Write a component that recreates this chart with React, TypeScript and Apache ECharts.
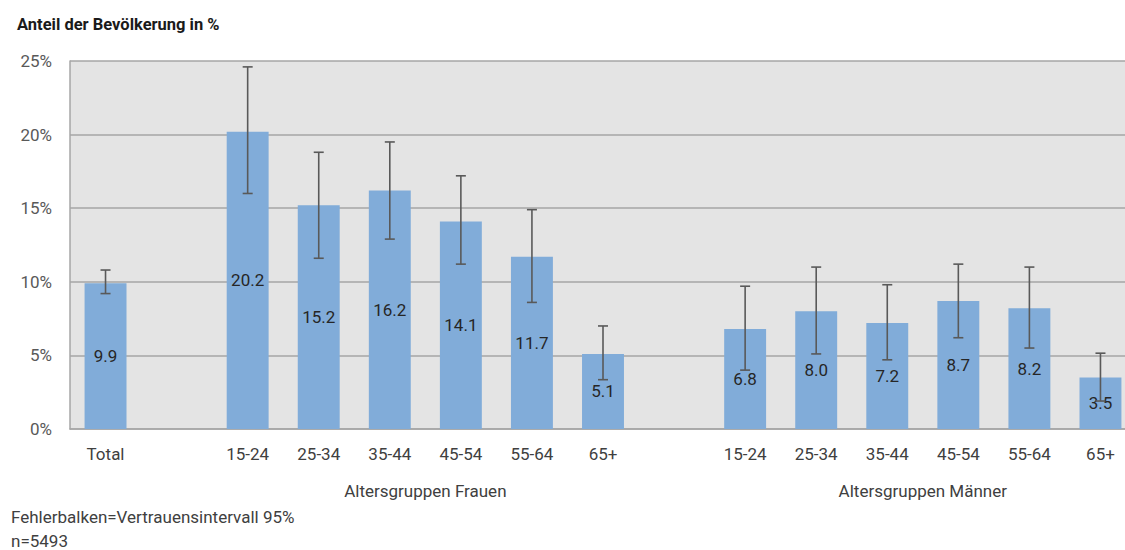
import React, { useEffect, useRef } from "react";
import * as echarts from "echarts";

const categories = ["Total", "", "15-24", "25-34", "35-44", "45-54", "55-64", "65+", " ", "15-24", "25-34", "35-44", "45-54", "55-64", "65+"];
const values: (number | null)[] = [9.9, null, 20.2, 15.2, 16.2, 14.1, 11.7, 5.1, null, 6.8, 8.0, 7.2, 8.7, 8.2, 3.5];
const errLow: (number | null)[] = [9.2, null, 16.0, 11.6, 12.9, 11.2, 8.6, 3.35, null, 4.0, 5.1, 4.7, 6.2, 5.5, 1.9];
const errHigh: (number | null)[] = [10.8, null, 24.6, 18.8, 19.5, 17.2, 14.9, 7.0, null, 9.7, 11.0, 9.8, 11.2, 11.0, 5.15];
const yTicks = { min: 0, max: 25, interval: 5 };
const groupLabels = [
  { text: "Altersgruppen Frauen", from: 2, to: 7 },
  { text: "Altersgruppen Männer", from: 9, to: 14 },
];
const titleText = "Anteil der Bevölkerung in %";
const notes = ["Fehlerbalken=Vertrauensintervall 95%", "n=5493"];

const FONT = "Roboto, 'Noto Sans', sans-serif";
const W = 1137;
const H = 550;

export default function App() {
  const ref = useRef<HTMLDivElement>(null);
  useEffect(() => {
    if (!ref.current) return;
    const chart = echarts.init(ref.current, undefined, { renderer: "svg" });
    const errData = values
      .map((v, i) => (v == null ? null : [i, errLow[i], errHigh[i]]))
      .filter((d) => d != null);
    chart.setOption({
      animation: false,
      textStyle: { fontFamily: FONT },
      title: {
        text: titleText,
        left: 12,
        top: 11,
        textStyle: { fontFamily: FONT, fontSize: 16.5, fontWeight: "bold", color: "#1a1a1a" },
      },
      grid: {
        left: 70,
        top: 61,
        bottom: 121,
        right: 1,
        show: true,
        backgroundColor: "#e4e4e4",
        borderWidth: 0,
      },
      xAxis: {
        type: "category",
        data: categories,
        axisLine: { show: true, lineStyle: { color: "#a6a6a6", width: 1.5 } },
        axisTick: { show: false },
        axisLabel: { color: "#404040", fontSize: 17, margin: 16, interval: 0, fontFamily: FONT },
        splitLine: { show: false },
      },
      yAxis: {
        type: "value",
        min: yTicks.min,
        max: yTicks.max,
        interval: yTicks.interval,
        axisLine: { show: true, lineStyle: { color: "#a6a6a6", width: 1.5 } },
        axisTick: { show: false },
        axisLabel: { formatter: "{value}%", color: "#595959", fontSize: 17, margin: 18, fontFamily: FONT },
        splitLine: { show: true, lineStyle: { color: "#a6a6a6", width: 1.5 } },
      },
      series: [
        {
          type: "bar",
          data: values.map((v) => (v == null ? "-" : v)),
          barWidth: "59%",
          itemStyle: { color: "#81acd9" },
          label: {
            show: true,
            position: "inside",
            formatter: (p: any) => Number(p.value).toFixed(1),
            color: "#262626",
            fontSize: 17,
            fontFamily: FONT,
          },
        },
        {
          type: "custom",
          data: errData,
          encode: { x: 0, y: [1, 2] },
          z: 5,
          renderItem: (params: any, api: any) => {
            const x = api.value(0);
            const lo = api.coord([x, api.value(1)]);
            const hi = api.coord([x, api.value(2)]);
            const hw = 5;
            const style = { stroke: "#595959", lineWidth: 1.6 };
            return {
              type: "group",
              children: [
                { type: "line", shape: { x1: lo[0], y1: lo[1], x2: hi[0], y2: hi[1] }, style },
                { type: "line", shape: { x1: lo[0] - hw, y1: lo[1], x2: lo[0] + hw, y2: lo[1] }, style },
                { type: "line", shape: { x1: hi[0] - hw, y1: hi[1], x2: hi[0] + hw, y2: hi[1] }, style },
              ],
            };
          },
        },
      ],
    });
    const graphics: any[] = groupLabels.map((g) => {
      const a = chart.convertToPixel({ xAxisIndex: 0 }, g.from) as number;
      const b = chart.convertToPixel({ xAxisIndex: 0 }, g.to) as number;
      return {
        type: "text",
        x: (a + b) / 2,
        y: 491,
        style: { text: g.text, fill: "#404040", font: `17px ${FONT}`, align: "center", verticalAlign: "middle" },
      };
    });
    notes.forEach((n, i) => {
      graphics.push({
        type: "text",
        x: 11,
        y: 517 + i * 24,
        style: { text: n, fill: "#404040", font: `17px ${FONT}`, align: "left", verticalAlign: "middle" },
      });
    });
    chart.setOption({ graphic: graphics });
    return () => chart.dispose();
  }, []);
  return (
    <div style={{ position: "absolute", left: 0, top: 0, width: 1125, height: H, overflow: "hidden" }}>
      <div ref={ref} style={{ width: W, height: H }} />
    </div>
  );
}
